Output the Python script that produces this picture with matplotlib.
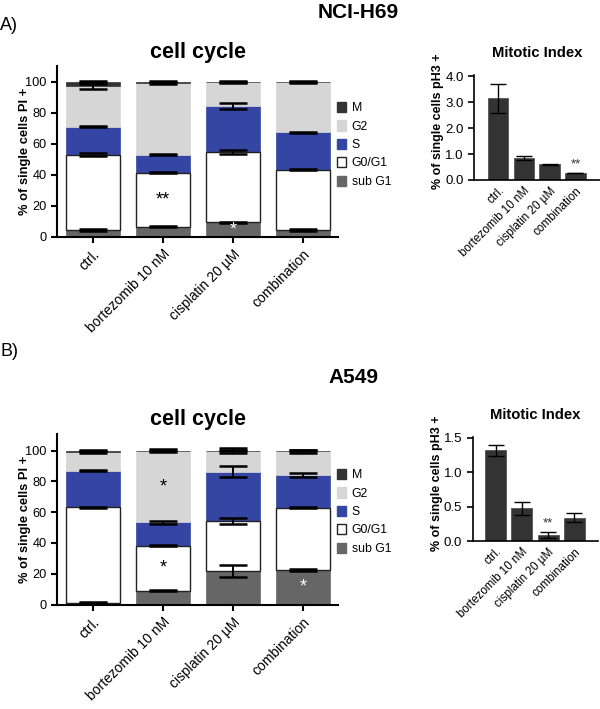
import matplotlib
matplotlib.use("Agg")
import matplotlib.pyplot as plt
from matplotlib.patches import Patch
import numpy as np

plt.rcParams['font.family'] = ['Liberation Sans', 'DejaVu Sans']

# ---------------- data ----------------
categories = ["ctrl.", "bortezomib 10 nM", "cisplatin 20 µM", "combination"]
phases = ["sub G1", "G0/G1", "S", "G2", "M"]

# NCI-H69 cell cycle (segment percentages, bottom to top)
h69_subG1 = [4.3, 6.5, 9.3, 4.3]
h69_G0G1 = [48.7, 34.8, 45.3, 38.9]
h69_S = [18.0, 11.7, 29.9, 24.1]
h69_G2 = [26.0, 46.3, 15.0, 32.2]
h69_M = [3.0, 0.7, 0.5, 0.5]
h69_subG1_err = [0.8, 0.4, 0.5, 0.4]
h69_G0G1_err = [0.8, 0.4, 1.3, 0.3]
h69_S_err = [0.4, 0.5, 1.8, 0.3]
h69_G2_err = [1.4, 0.5, 0.4, 0.3]
h69_M_err = [0.4, 0.2, 0.2, 0.2]

# A549 cell cycle
a549_subG1 = [1.0, 8.8, 21.9, 22.4]
a549_G0G1 = [62.1, 29.4, 32.3, 40.5]
a549_S = [23.8, 15.2, 32.0, 21.2]
a549_G2 = [12.1, 46.4, 13.8, 15.4]
a549_M = [1.0, 0.2, 0.0, 0.5]
a549_subG1_err = [0.3, 0.3, 4.0, 0.8]
a549_G0G1_err = [0.5, 0.3, 2.1, 0.5]
a549_S_err = [0.4, 1.0, 3.5, 1.0]
a549_G2_err = [0.5, 1.0, 1.9, 1.0]
a549_M_err = [0.3, 0.2, 0.2, 0.2]

# Mitotic index
h69_mi = [3.14, 0.85, 0.61, 0.27]
h69_mi_err = [0.55, 0.07, 0.02, 0.01]
a549_mi = [1.32, 0.48, 0.087, 0.34]
a549_mi_err = [0.085, 0.095, 0.05, 0.07]

# significance marks: (category index, phase, text, colour)
h69_marks = [(1, "G0/G1", "**", "black"), (2, "sub G1", "*", "white")]
a549_marks = [(1, "G2", "*", "black"), (1, "G0/G1", "*", "black"), (3, "sub G1", "*", "white")]
h69_mi_marks = [(3, "**")]
a549_mi_marks = [(2, "**")]

# ---------------- styles ----------------
colors = {"sub G1": "#666666", "G0/G1": "#ffffff", "S": "#3545a3", "G2": "#d6d6d6", "M": "#333333"}
edges = {"sub G1": "#666666", "G0/G1": "#222222", "S": "#3545a3", "G2": "#d6d6d6", "M": "#333333"}

W, H = 600, 709
fig = plt.figure(figsize=(W / 100, H / 100), dpi=100)


def fax(left, top, right, bottom):
    return fig.add_axes([left / W, 1 - bottom / H, (right - left) / W, (bottom - top) / H])


def style(ax, lw=1.5):
    for s in ["top", "right"]:
        ax.spines[s].set_visible(False)
    for s in ["left", "bottom"]:
        ax.spines[s].set_linewidth(lw)
    ax.tick_params(axis="both", direction="out", width=lw, length=4, color="black")


def cell_cycle(ax, segs, errs, marks, ymax, legend_top):
    x = np.arange(len(categories))
    bottom = np.zeros(len(categories))
    tops = {}
    for ph in phases:
        vals = np.array(segs[ph])
        ax.bar(x, vals, 0.77, bottom=bottom, color=colors[ph], edgecolor=edges[ph],
               linewidth=1.0 if ph == "G0/G1" else 0.5, zorder=2 if ph != "G0/G1" else 3)
        tops[ph] = (bottom.copy(), bottom + vals)
        bottom = bottom + vals
    for ph in phases:
        ax.errorbar(x, tops[ph][1], yerr=errs[ph], fmt="none", ecolor="black",
                    elinewidth=1.4, capsize=10, capthick=1.8, zorder=5)
    for i, ph, txt, col in marks:
        lo, hi = tops[ph][0][i], tops[ph][1][i]
        ax.text(i, (lo + hi) / 2, txt, ha="center", va="center", fontsize=13, color=col, zorder=6)
    ax.set_xlim(-0.51, 3.5)
    ax.set_ylim(0, ymax)
    ax.set_yticks([0, 20, 40, 60, 80, 100])
    ax.set_xticks(x)
    ax.set_xticklabels(categories, rotation=45, ha="right", rotation_mode="anchor", fontsize=10)
    ax.tick_params(axis="y", labelsize=9.2)
    style(ax)
    ax.set_title("cell cycle", fontsize=15.5, fontweight="bold", pad=6)
    ax.set_ylabel("% of single cells PI +", fontsize=9.3, fontweight="bold")
    ax.yaxis.set_label_coords(-0.092, 0.5)
    handles = [Patch(facecolor=colors[p], edgecolor=edges[p], linewidth=1.0) for p in phases[::-1]]
    fig.legend(handles, phases[::-1][:], loc="upper left",
               bbox_to_anchor=(337 / W, 1 - legend_top / H), frameon=False,
               borderpad=0, borderaxespad=0, handlelength=0.75, handleheight=0.9,
               handletextpad=0.45, labelspacing=0.5, fontsize=8.8)


def mitotic(ax, vals, err, marks, ymax, yticks, xlim):
    x = np.arange(len(categories))
    ax.bar(x, vals, 0.8, color="#333333", edgecolor="#555555", linewidth=0.6, zorder=2)
    ax.errorbar(x, vals, yerr=err, fmt="none", ecolor="black", elinewidth=1.0,
                capsize=6, capthick=1.0, zorder=4)
    for i, txt in marks:
        ax.text(i, vals[i] + err[i] + ymax * 0.02, txt, ha="center", va="bottom",
                fontsize=9.5, color="#333333")
    ax.set_xlim(*xlim)
    ax.set_ylim(0, ymax)
    ax.set_yticks(yticks)
    ax.set_yticklabels([f"{t:.1f}" for t in yticks])
    ax.set_xticks(x)
    ax.set_xticklabels(categories, rotation=45, ha="right", rotation_mode="anchor", fontsize=8.4)
    ax.tick_params(axis="y", labelsize=9.5)
    style(ax, lw=1.2)
    ax.tick_params(axis="x", length=0)
    ax.set_title("Mitotic Index", fontsize=10.7, fontweight="bold", pad=13)
    ax.set_ylabel("% of single cells pH3 +", fontsize=9, fontweight="bold")


# ---------- Panel A: NCI-H69 ----------
axA = fax(57, 66.2, 338, 236.7)
cell_cycle(axA,
           {"sub G1": h69_subG1, "G0/G1": h69_G0G1, "S": h69_S, "G2": h69_G2, "M": h69_M},
           {"sub G1": h69_subG1_err, "G0/G1": h69_G0G1_err, "S": h69_S_err, "G2": h69_G2_err, "M": h69_M_err},
           h69_marks, 110, 102)

axAm = fax(474, 75.3, 600, 180)
mitotic(axAm, h69_mi, h69_mi_err, h69_mi_marks, 4.03, [0.0, 1.0, 2.0, 3.0, 4.0], (-0.93, 3.95))
axAm.yaxis.set_label_coords(-0.24, 0.56)

fig.text(0, 1 - 25 / H, "A)", fontsize=13, ha="left", va="center")
fig.text(358 / W, 1 - 12 / H, "NCI-H69", fontsize=15, fontweight="bold", ha="center", va="center")

# ---------- Panel B: A549 ----------
axB = fax(57, 433.6, 338, 604.5)
cell_cycle(axB,
           {"sub G1": a549_subG1, "G0/G1": a549_G0G1, "S": a549_S, "G2": a549_G2, "M": a549_M},
           {"sub G1": a549_subG1_err, "G0/G1": a549_G0G1_err, "S": a549_S_err, "G2": a549_G2_err, "M": a549_M_err},
           a549_marks, 111, 469)

axBm = fax(472.7, 437.3, 598, 541)
mitotic(axBm, a549_mi, a549_mi_err, a549_mi_marks, 1.51, [0.0, 0.5, 1.0, 1.5], (-0.87, 3.9))
axBm.yaxis.set_label_coords(-0.24, 0.553)

fig.text(0, 1 - 352 / H, "B)", fontsize=13, ha="left", va="center")
fig.text(353 / W, 1 - 378 / H, "A549", fontsize=15, fontweight="bold", ha="center", va="center")

fig.savefig("out.png", dpi=100)
